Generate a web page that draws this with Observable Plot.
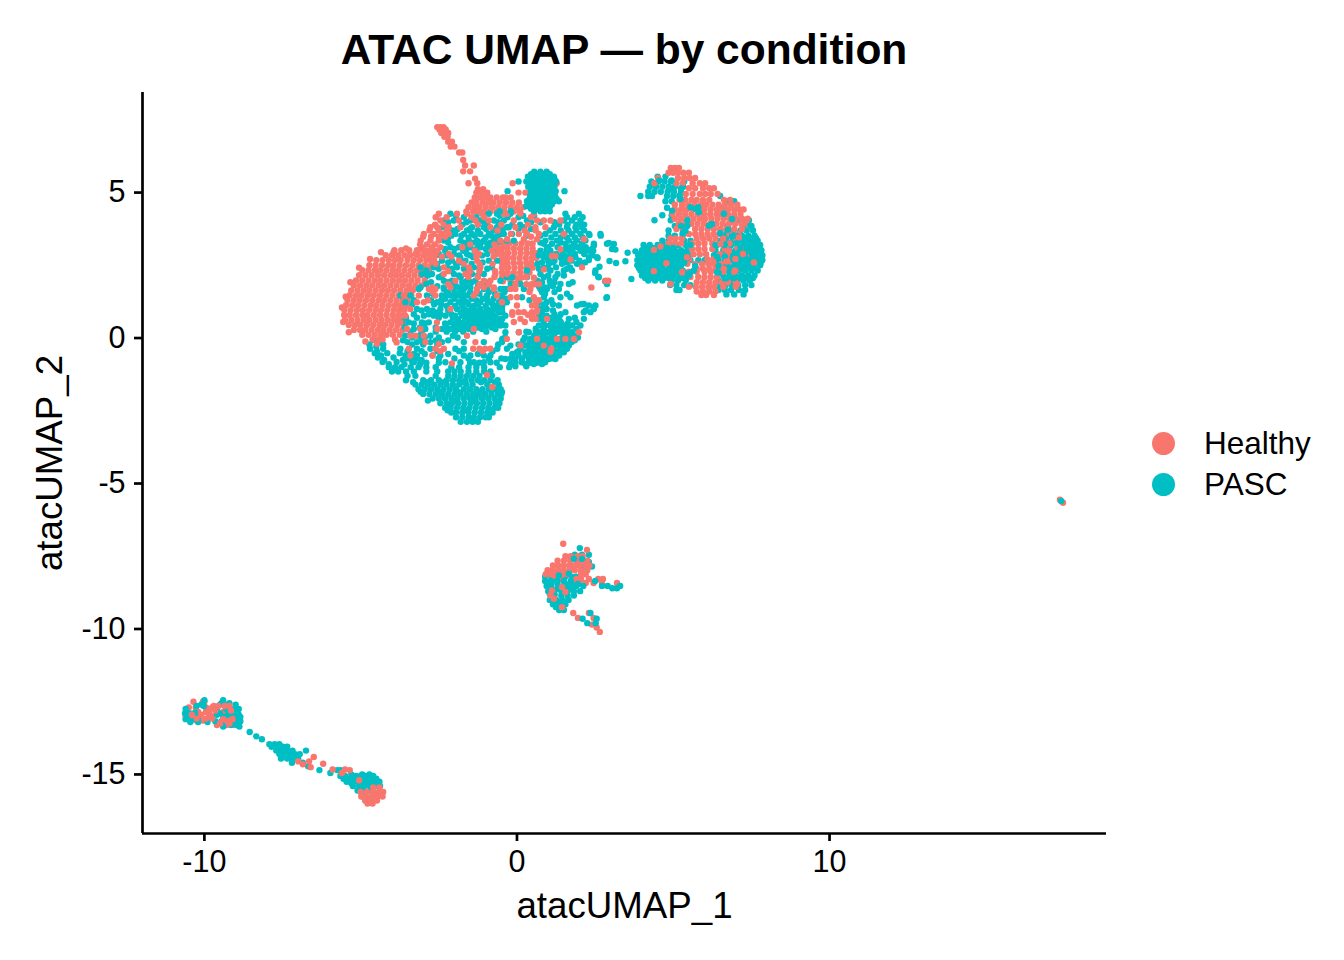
<!DOCTYPE html>
<html>
<head>
<meta charset="utf-8">
<script src="https://cdn.jsdelivr.net/npm/d3@7"></script>
<script src="https://cdn.jsdelivr.net/npm/@observablehq/plot@0.6"></script>
<style>
html,body{margin:0;background:#fff;font-family:"Liberation Sans",Arial,sans-serif;color:#000}
#wrap{position:relative;width:1344px;height:960px;overflow:hidden}
#title{position:absolute;left:142px;width:964px;top:25px;text-align:center;font-weight:bold;font-size:42.5px;line-height:50px}
#legend{position:absolute;left:1152px;top:423px}
.item{display:flex;align-items:center;height:41px}
.sw{width:23px;height:23px;border-radius:50%;margin-right:29px}
.lab{font-size:31.5px}
</style>
</head>
<body>
<div id="wrap">
<div id="title"></div>
<div id="chart"></div>
<div id="legend"></div>
</div>
<script>
const titleText = "ATAC UMAP — by condition";
const conditions = ["Healthy", "PASC"];
const palette = ["#F8766D", "#00BFC4"];
const xTicks = [-10, 0, 10];
const yTicks = [-15, -10, -5, 0, 5];
const xLabel = "atacUMAP_1";
const yLabel = "atacUMAP_2";
const xDomain = [-11.98, 18.86];
const yDomain = [-17.03, 8.44];

// Each row: [y, x, x, x ...].
const pascLower = [
[-.07,-4.6],[-.15,-4.4],[-.22,-4.72,-4.28],[-.3,-4.5],[-.37,-4.7,-4.28],[-.45,-4.48],
[-.52,-4.55,-4.15,-3.75],[-.6,-4.35],[-.67,-4.45,-3.95,-3.3],[-.75,-4.25,-3.65,-3.05],[-.82,-4.3,-3.85,-3.35],[-.9,-4.1,-3.6,-3.1],
[-1,-4.1,-3.9,-3.7,-3.4,-3.15,-2.9,-2.6,-2.1,-1.85,-1.55,-1.3,-1.05,-.55,-.25],
[-1.15,-4,-3.8,-3.55,-3.3,-2.9,-2.55,-2.2,-2,-1.8,-1.55,-1.3,-1.05,-.85],
[-1.3,-3.5,-3.25,-2.6,-2.2,-2,-1.8,-1.6,-1.4,-1.2,-.8],
[-1.45,-3.55,-3,-2.75,-2.5,-2.25,-2.05,-1.85,-1.65,-1.45,-1.25,-1.05,-.85,-.62],
[-1.52,-3.32,-2.9,-2.35,-1.75,-1.15,-.7],
[-1.6,-3.25,-3.05,-2.85,-2.65,-2.45,-2.25,-2.05,-1.85,-1.62,-1.42,-.95,-.58],
[-1.76,-3.15,-2.95,-2.75,-2.55,-2.35,-2.15,-1.95,-1.7,-1.5,-1.3,-1.1,-.9,-.7,-.52],
[-1.85,-3.08,-2.5,-1.88,-1.2,-.48],
[-1.92,-3,-2.8,-2.6,-2.4,-2.2,-2,-1.8,-1.6,-1.4,-1.22,-1.02,-.82,-.62,-.5],
[-2.08,-2.7,-2.5,-2.3,-2.1,-1.9,-1.7,-1.5,-1.32,-1.12,-.92,-.72,-.52],
[-2.15,-2.85,-2.02,-1.4,-.6],
[-2.24,-2.45,-2.25,-2.08,-1.88,-1.68,-1.48,-1.28,-1.08,-.88,-.68,-.56],
[-2.4,-2.3,-2.12,-1.92,-1.72,-1.52,-1.32,-1.12,-.92,-.72,-.6],
[-2.48,-2.22,-1.62,-.85],
[-2.56,-2.1,-1.95,-1.75,-1.55,-1.35,-1.15,-.95,-.78],
[-2.72,-1.95,-1.75,-1.55,-1.38,-1.18,-1,-.9],
[-2.88,-1.8,-1.6,-1.42,-1.25],
];

const pascMid = [
[4.27,-2.13,-.9,-.64,-.21,1.55,1.98],
[4.15,-1.7,-1.3,-.3,.05,1.6,1.85,2.1],
[4.04,-2.34,-2.02,-1.49,-1.17,-.74,-.42,.32,1.5,1.76,2.03],
[3.9,-1.75,-1.25,-.95,-.15,.1,1.35,1.62,1.9,2.15],
[3.81,-2.34,-1.44,-1.06,-.64,-.32,-.53,-.26,.22,1.18,1.6,1.87,2.08],
[3.7,-2.05,-1.6,-1.25,-.75,1.05,1.4,1.65,1.9,2.15],
[3.58,-1.97,-1.7,-1.44,-1.17,-.9,-.53,-.42,-.16,.91,1.23,1.5,1.76,2.03,2.3,2.67],
[3.46,-2.2,-1.55,-1,-.7,1.1,1.4,1.6,1.85,2.1],
[3.35,-2.34,-1.81,-1.54,-1.28,-1.06,-.74,-.32,-.53,-.1,.91,1.28,1.66,1.92,2.19],
[3.24,-1.65,-1.25,-.95,.86,1.12,1.55,1.82,2.08,2.46,2.88],
[3.12,-2.13,-1.86,-1.49,-1.17,-.85,1,1.3,1.7,1.95,2.2],
[3,-2.3,-1.72,-1.35,-.7,.75,1.07,1.66,2.03,2.3],
[2.89,-2.5,-2.02,-1.6,-.95,.9,1.25,1.45,1.85,2.15],
[2.78,-1.82,-1.4,.86,1.39,1.6,1.87,2.3,2.56],
[2.66,-2.4,-2.08,-1.65,-.9,-.64,1,1.2,1.45,1.75,2],
[2.55,-2.55,-1.95,-1.45,.65,1.02,1.44,1.92,2.03],
[2.43,-3.09,-2.66,-2.24,-1.92,-1.38,-.8,.85,1.25,1.7],
[2.32,-2.9,-2.1,-1.6,.32,1.07,1.5,1.76,2.51],
[2.2,-3.04,-2.72,-2.02,-1.44,-1.06,.75,1.3],
[2.09,-2.5,-1.8,-.32,-.16,.32,.86,1.23,2.62],
[1.97,-2.34,-2.08,-1.6,-1.33,-.53,.65,1.05],
[1.86,-2.9,-2,-1.2,-.2,.11,1.07,1.39,1.66,2.88],
[1.74,-3.09,-2.34,-1.81,-1.49,-.95,.9],
[1.69,-3.14,-2.34,-2.02,-1.7,-1.06,-.53,-.3,-.42,.22,.75,.96,1.34],
[1.58,-2.2,-1.85,-1.5,-.9,-.4,.8,1.2],
[1.46,-3.73,-3.41,-2.88,-2.4,-2.13,-1.86,-1.6,-.96,-.53],
[1.4,-.47,.16,.86,1.39,1.71,2.88],
[1.35,-2.3,-2,-1.72,-1.45,-1.1,-.75,-.35],
[1.23,-3.57,-2.56,-2.13,-1.86,-1.6,-1.17,-.85,-.58,-.32,.72,.95],
[1.12,-.47,.64,.86,1.34,1.92,2.3,2.51],
[1.1,-2.25,-1.98,-1.75,-1.38,-1,-.65],
[1,-3.2,-2.88,-2.45,-1.92,-1.7,-1.44,-1.17,-.96,-.74,-.48,.78,.95,2.46],
[.89,-.47,.8,1.55,2.14,2.35],
[.88,-2.6,-1.8,-1.55,-1.3,-1.05,-.8,-.55],
[.77,-2.98,-2.66,-2.29,-1.98,-1.75,-1.54,-1.33,-1.12,-.9,-.69,-.37,.75,.95],
[.66,-.47,.7,.86,1.28,1.66,2.14],
[.65,-1.88,-1.65,-1.42,-1.2,-1,-.75,-.55],
[.55,.85,1.1,1.4,1.9],
[.54,-3.68,-3.46,-3.04,-2.82,-2.13,-1.92,-1.7,-1.49,-1.28,-1.06,-.85,-.64],
[.43,-.53,-.37,.7,.91,1.07,1.28,1.5,1.76,2.03],
[.42,-2,-1.8,-1.6,-1.38,-1.15,-.95,-.7],
[.32,.6,.85,1.1,1.38,1.62,1.9],
[.31,-3.3,-2.93,-2.4,-2.13,-1.86,-1.54,-1.12,-.69],
[.2,-.37,.06,.38,.7,.96,1.23,1.5,1.76],
[.08,-3.57,-3.14,-2.77,-2.05,.55,.82,1.1,1.5,1.7,1.88],
[-.03,-.47,.43,.7,.96,1.39,1.6,1.76],
[-.14,-3.5,-3.2,-2.77,-2.4,-1.7,-1.06,-.48,.4,.65,.92,1.1,1.35,1.55,1.75],
[-.26,-.21,.27,.54,.8,1.23,1.44,1.66],
[-.37,-3.73,-3.2,-2.77,-1.97,-1.7,-.63,-.32,.12,.4,.67,.93,1.17,1.4,1.6],
[-.49,0,.27,.54,.8,1.07,1.28,1.5],
[-.6,-3.57,-3.2,-2.7,-2.45,-1.7,-1.49,-1.06,-.85,.05,.27,.48,.7,.92,1.13,1.35],
[-.72,-.37,-.05,.16,.38,.59,.8,1.02,1.23],
[-.83,-3.3,-3.08,-2.29,-1.81,-1.38,-1.06,-.85,.15,.45,.68,.9],
[-.89,-.21,.27,.54,.8],
[-.97,-.05,.3],
];

const pascFill = [
[4.2,-1.95,-1.05,-.55,.2,.55],
[3.98,-2.2,-1.62,-1.05,-.6,.45,.75,1.2],
[3.75,-2.5,-1.9,-1.5,-.98,-.45,.05,.45],
[3.52,-2.1,-1.78,-1.35,-.82,-.62,.3,.75],
[3.28,-2.2,-1.7,-1.4,-1.15,-.85,-.62,.75,1.4],
[3.06,-2.3,-2,-1.62,-1.3,-1,.95,1.55,1.78,2.4],
[2.84,-2.25,-1.85,-1.5,-1.12,.7,1.02,1.52,1.72,2.42],
[2.6,-2.2,-1.78,-1.1,.8,1.15,1.6,2.18],
[2.38,-2.5,-2.08,-1.7,-1.2,-.95,.7,1,1.6],
[2.15,-2.85,-2.4,-1.85,-1.25,1,1.5],
[1.92,-2.75,-2.2,-1.75,-1.45,-1,.8,1.2,1.78],
[1.78,-2.55,-1.95,-1.62,-1.25,.7,1.15],
[1.52,-2.7,-2.25,-2,-1.73,-1.2,-.7,.9,1.6],
[1.3,-3.3,-2.75,-2.42,-1.75,-1.3,-.95,-.5,.4,1.1],
[1.16,-3.35,-2.65,-2.42,-1.55,-1.25,-.78,.9,1.15,2.05],
[.95,-3.05,-2.7,-2.2,-1.6,-1.33,-.85,-.6,1.15,2.2],
[.82,-3.3,-2.82,-2.45,-2.1,-1.62,-1.42,-1.2,-1,-.78,.7,1.2,1.4],
[.7,-3.55,-3.2,-2.5,-2.05,-1.55,-1.3,-1.1,-.85,.95,1.1,1.35,1.85],
[.5,-3.3,-2.95,-2.3,-2,-1.8,-1.6,-1.38,-1.18,-.95,-.75,-.5,1.2,1.62],
[.36,-3.58,-3.1,-2.6,-2.25,-1.95,-1.7,-1.45,-1.25,-1.02,-.8,1.25,1.45],
[.22,-3.4,-3.05,-2.6,-2.25,-1.98,-1.72,-1.4,-.98,.3,.6,.85,1.1,1.35,1.6],
[.02,-3.35,-2.95,-2.5,-1.9,-.38,.25,.62,.9,1.2,1.45,1.95],
[-.08,-3.65,-3.05,-2.6,-2.2,.2,.55,.8,1.05,1.25,1.62,1.85],
[-.22,-3.35,-3,-2.55,-.6,.05,.45,.7,1,1.28,1.5],
[-.45,-3.5,-3.05,-2.55,-1.85,-.78,.05,.52,.78,1.02,1.35],
[-.55,-3.3,-2.95,-2.2,-1.25,-.15,.4,.62,.85,1.25],
[-.7,-3.5,-3.2,-2.5,-2,-1.55,-.9,-.5,-.2,.7,.98,1.1],
[-.85,-2.9,-2.5,-1.5,-1.2,-.65,-.05,.4,.62],
];

const pascTopBlob = [
[5.72,.55,.75,.95],
[5.63,.45,.65,.85,1.05],
[5.55,.35,.5,.68,.85,1.02,1.18],
[5.46,.4,.55,.72,.88,1.05,1.2],
[5.38,.05,.3,.46,.62,.78,.94,1.1,1.25],
[5.28,.42,.6,.78,.95,1.12],
[5.2,.36,.52,.7,.86,1.02,1.2],
[5.12,.5,.68,.85,1,1.18],
[5.05,-.3,.45,.6,.75,.92,1.08,1.24,1.52],
[4.95,.5,.65,.83,1,1.15],
[4.88,.42,.58,.74,.9,1.06,1.22],
[4.78,.4,.55,.75,.92,1.1,1.27],
[4.7,.32,.5,.66,.84,1,1.18,1.34],
[4.6,.42,.6,.78,.95,1.12],
[4.53,.3,.5,.7,.88,1.06],
[4.44,.45,.65,.82,1],
[4.36,-.55,-.2,.55,.75,.9,1.05],
];

const healthyDense = [
// tail
[7.25,-2.55,-2.45,-2.35],[7.17,-2.48,-2.28],[7.05,-2.42,-2.3,-2.2],[6.92,-2.32,-2.22],[6.75,-2.2,-2.08],[6.58,-2.12,-2],[6.38,-1.85,-1.75],[6.12,-1.72],[5.93,-1.66,-1.38],[5.73,-1.72,-1.5],[5.48,-1.34],[5.32,-1.55,-1.27,-.14,1.27],[5.12,-1.08,-1.25],
[5,-1.3,-1.12,-.95,.05,.27],
[4.83,-1.35,-1.18,-1,-.85,-.65,-.37,-.45,-.2],
[4.66,-1.45,-1.3,-1.1,-.92,-.75,-.55,-.35,-.15,.06],
[4.5,-1.55,-1.36,-1.2,-1,-.8,-.6,-.4,-.2,0,.2],
[4.35,-1.62,-1.4,-1.25,-1.05,-.85,-.65,-.4,-.1,.1],
// central patch
[3.25,-.45,-.25,-.05,.15,.35,.5],
[3.08,-.48,-.3,-.1,.1,.3,.5],
[2.92,-.48,-.28,-.08,.12,.32,.5,.62],
[2.75,-.48,-.3,-.12,.08,.28,.48,.62],
[2.58,-.48,-.3,-.1,.1,.3,.45],
[2.42,-.48,-.28,-.08,.12,.32,.5],
[2.25,-.48,-.3,-.1,.1,.3,.4],
[2.08,-.48,-.25,-.05,.15],
[1.95,-.45,-.2,.05],
// dense left blob
[3.08,-3.55,-3.05],[2.95,-4.35,-3.95],[2.72,-4.7],[2.42,-5.05],[1.92,-5.33],[1.42,-5.48],[1.05,-5.6],[.55,-5.56],[.2,-5.38],[-.12,-4.85],[-.2,-4.48],[-.15,-3.85],
[3.02,-3.92,-3.7,-3.45,-3.2,-2.95,-2.7],
[2.85,-4.2,-4,-3.8,-3.6,-3.42,-3.2,-3,-2.78,-2.55],
[2.68,-4.5,-4.3,-4.1,-3.9,-3.72,-3.5,-3.3,-3.1,-2.9,-2.65],
[2.5,-4.72,-4.52,-4.32,-4.12,-3.95,-3.75,-3.55,-3.35,-3.15,-2.95,-2.75],
[2.33,-4.95,-4.75,-4.55,-4.38,-4.18,-3.98,-3.8,-3.6,-3.4,-3.2,-3,-2.82],
[2.16,-5.05,-4.85,-4.65,-4.45,-4.25,-4.05,-3.87,-3.68,-3.48,-3.28,-3.08,-2.9],
[1.98,-5.15,-4.95,-4.75,-4.55,-4.37,-4.17,-3.97,-3.77,-3.58,-3.38,-3.18,-2.95],
[1.81,-5.22,-5.02,-4.82,-4.63,-4.43,-4.25,-4.05,-3.85,-3.65,-3.45,-3.25,-3.05],
[1.64,-5.3,-5.1,-4.9,-4.72,-4.52,-4.32,-4.13,-3.93,-3.73,-3.53,-3.33],
[1.47,-5.35,-5.15,-4.97,-4.77,-4.58,-4.38,-4.18,-3.98,-3.78,-3.58,-3.38],
[1.3,-5.42,-5.22,-5.03,-4.83,-4.63,-4.43,-4.25,-4.05,-3.85,-3.65,-3.5],
[1.13,-5.47,-5.27,-5.08,-4.88,-4.68,-4.5,-4.3,-4.1,-3.9,-3.72,-3.55],
[.96,-5.52,-5.32,-5.12,-4.93,-4.73,-4.53,-4.35,-4.15,-3.95,-3.77,-3.6],
[.79,-5.53,-5.35,-5.15,-4.95,-4.78,-4.58,-4.38,-4.18,-3.98,-3.8,-3.62],
[.62,-5.5,-5.3,-5.1,-4.9,-4.72,-4.52,-4.33,-4.13,-3.93,-3.75,-3.6],
[.45,-5.38,-5.18,-5,-4.8,-4.6,-4.4,-4.22,-4.02,-3.82,-3.62],
[.28,-5.22,-5.02,-4.85,-4.65,-4.45,-4.27,-4.07,-3.87,-3.67],
[.11,-4.95,-4.75,-4.55,-4.35,-4.17,-3.97,-3.75],
[-.05,-4.62,-4.42,-4.3,-3.9],
];

const healthyOver = [
[4.27,-2.5,-1.92,-1.6,-1.12,-.42,-.32,.11,.54],
[4.04,-2.45,-1.86,-1.33,-.9,-.1,.64,.86,1.07,1.39],
[3.81,-2.77,-2.55,-2.18,-1.81,-.85,-.05,.59,.91],
[3.58,-2.98,-2.66,-2.4,-2.18,-.2,.06,.32,.7,1.5],
[3.4,-.31,.22,.64,2.14],
[3.35,-3.08,-2.77,-2.5,-.53],
[3.12,-3.04,-2.72,-2.45,-1.75,-.64,-.32],
[3.05,1.39],
[2.89,-3.25,-2.93,-2.61,-2.18,-1.22,-.64,-.32],
[2.82,1.12,1.23],
[2.7,1.71],
[2.66,-2.72,-1.86,-1.28,-.42],
[2.43,-2.34,-1.54,-1.17,-.42,2.08],
[2.36,.86],
[2.2,-2.34,-1.65,-.69,-.32],
[2.07,.54,.1],
[1.97,-1.97,-1.06,-.85,2.83,2.92],
[1.86,-.05,.48,.7],
[1.74,-2.7,-2.13,-1.06,-.74,2.38],
[1.69,-3.41,-2.82,-2.61,-1.28,-.74,-.21,-.05,.43],
[1.46,-3.62,-3.14,-2.61,-1.38,-.64],
[1.4,-.21,0,.54],
[1.23,-3.2,-2.98,-.48],
[1.12,0,.48,.6],
[1,-3.62,-3.41,-2.13],
[.95,.65],
[.89,-.15,.05,.22,.48,.62],
[.77,-3.73,-3.57],
[.66,.11,.48,.96,.6],
[.54,-3.73,-2.56],
[.31,-3.52,-3.09,-2.55,-1.38],
[.2,.06,1.98],
[.08,-3.41,-3.25,-2.98,-1.6],
[-.03,-.32,1.28,1.55,.64,1.82],
[-.14,-2.93,-1.33],
[-.26,.11,.86],
[-.37,-3.46,-2.61,-2.34,-1.4,-1.2,-1.02,-.85,1.1],
[-.47,1.07],
[-.6,-3.41,-2.7],
[-.87,-2.08],[-1.27,-.96],[-1.68,-.79],
[4.15,-2.6,-2.25,-1.45,-1.05,.45],[3.9,-2.62,-2.35,-1.25,-.5,.35],[3.7,-2.8,-2.5,-2.25,-.62,.25,.6],[3.48,-3,-2.75,-2.5,-2.3,.45],
[3.22,-3.1,-2.88,-2.62,-1.5,-.72],[3,-3.15,-2.85,-2.55,-1.35,-.8,-.55],[2.8,-2.75,-2.4,-2.1,-1.3,-.75],[2.55,-2.6,-1.7,-1.2,-.78],
[2.3,-2.2,-1.5,-1.2,-.7],[2.1,-1.55,-1.25,-.72,.3],[1.85,-2.2,-1.2,-.9,.3,.55],[1.58,-2.7,-1.3,.4],[1.3,-2.85,.6,.7],[.8,.35,.5,-.15],[.55,-.1,.25],[-.2,-2.5],[-.45,-2.45,-1.1],
];

const healthyRight = [
[5.85,4.92,5.05,5.18],
[5.68,4.85,5,5.15,5.32,5.5],
[5.5,4.52,5.15,5.35,5.52,5.7],
[5.32,4.4,5.1,5.3,5.62,5.85,6.02],
[5.15,5.5,5.7,5.95,6.15,6.3],
[4.95,5.4,5.62,5.85,6.02,6.2,6.42],
[4.75,5.2,5.38,5.58,5.75,5.95,6.15,6.62,6.82],
[4.58,5.05,5.28,5.48,5.68,5.88,6.05,6.25,6.45,6.65,6.85,7.05],
[4.42,5.05,5.25,5.42,5.62,5.82,6,6.2,6.4,6.55,6.75,6.95,7.12,7.25],
[4.26,4.98,5.18,5.38,5.58,5.78,5.98,6.18,6.38,6.55,6.75,6.95,7.15],
[4.1,5.05,5.25,5.45,5.65,5.85,6.02,6.22,6.42,6.62,6.82,7,7.2,7.38],
[3.93,5.18,5.38,5.58,5.78,5.98,6.18,6.38,6.58,6.78,6.98,7.18,7.35],
[3.75,5.1,5.3,5.7,5.9,6.1,6.3,6.5,6.7,6.95,7.2],
[3.58,5.5,5.7,5.9,6.1,6.3,6.5,6.8,7.08],
[3.42,4.9,5.08,5.28,5.75,5.95,6.15,6.35,6.6,7],
[3.25,4.85,5.05,5.25,5.6,5.8,6,6.25,6.8],
[3.06,5.6,5.8,6,6.25,6.65,7.05,7.25],
[2.88,5.65,5.85,6.05,6.5,6.75,7.35],
[2.7,5.5,6.1,6.28,6.75],
[2.55,5.45,5.7,5.92,6.12,6.3,6.55,6.75],
[2.38,5.75,5.95,6.15,6.35,6.55,7.03],
[2.28,5.3,5.5,5.75,6,6.2,6.6,6.95],
[2.1,5.3,5.55,5.8,6,6.2,6.4],
[1.92,5.75,5.95,6.15,6.35,6.55,6.75,7],
[1.76,5.5,5.72,5.92,6.12,6.3,6.6,7],
[1.6,5.75,5.95,6.15,6.35],
[1.48,5.9,6.05,6.3],
];

const healthyRightOver = [
[3.46,7.1],[3.23,6.51],[3.15,4.59],[3.03,4.38],[3,6.78],[2.89,7.23],[2.78,5.44],[2.72,6.99],[2.63,6.7],[2.6,7.58],[2.57,4.78],
[2.38,6.62],[2.32,6.97],[2.3,4.38],[2.26,5.28],[1.86,7.04,4.91],
];

const pascRightUnder = [
[5.55,4.5,4.75],
[5.38,4.3,4.52,4.72,4.92,5.35],
[5.2,4.25,4.45,4.65,4.85,5.05,5.32],
[5.03,4.2,4.4,4.6,4.82,5.02,5.25],
[4.88,3.95,4.2,4.32,4.8,5,5.2,6.5],
[4.7,4.75,4.95,6.75,6.95],
[4.48,4.8,5.55,6.6],
[4.22,4.65,4.95],
[4.05,4.4,4.92,6.9,7.05,7.25,7.42],
[3.85,5.05,6.75,7.25,7.5],
[3.7,4.85,5.35,6.7,6.92,7.15,7.35,7.55],
[3.52,4.85,5.05,5.3,6.6,6.75,6.95,7.2,7.4,7.6],
[3.35,4.65,4.85,5.35,5.55,6.5,6.7,6.9,7.15,7.35,7.55,7.7],
[3.2,4.05,4.25,4.5,4.7,4.9,5.15,5.4,6.4,6.6,6.85,7.05,7.25,7.45,7.65,7.78],
[3.02,4,4.2,4.45,4.65,4.85,5.05,5.25,5.45,6.35,6.6,6.8,7,7.2,7.4,7.6,7.82],
[2.85,3.88,4.08,4.28,4.48,4.72,4.9,5.1,5.3,5.5,6.3,6.55,6.78,7,7.2,7.4,7.62,7.85],
[2.68,3.85,4.05,4.25,4.45,4.65,4.85,5.1,5.35,5.55,5.8,6,6.45,6.65,6.88,7.05,7.25,7.45,7.65,7.85],
[2.5,3.85,4.05,4.25,4.45,4.65,4.85,5.05,5.25,6.95,7.15,7.35,7.55,7.78],
[2.32,3.95,4.15,4.35,4.55,4.75,5.05,5.3,6.7,6.85,7.1,7.3,7.5,7.7],
[2.15,4,4.2,4.4,4.6,4.8,5,6.6,6.8,7,7.2,7.4,7.6],
[1.98,4.2,4.42,4.65,4.95,5.15,5.4,6.45,6.65,6.85,7.05,7.25,7.45],
[1.82,4.9,5.1,5.35,5.55,6.5,6.68,6.88,7.08,7.3,7.5],
[1.65,5.1,5.2,6.45,6.65,6.85,7.1,7.3],
[1.5,6.7,6.95,7.25],
];

const pascRightFill = [
[3.43,7.3,7.5,7.65],[3.28,7.05,7.25,7.45,7.62],[3.1,4.12,4.35,4.6,4.8,5,7.15,7.35,7.55,7.72],
[2.93,3.98,4.18,4.38,4.6,4.82,5,5.2,5.4,7.1,7.3,7.5,7.72],
[2.76,3.95,4.15,4.35,4.55,4.75,4.98,5.22,5.45,6.9,7.1,7.3,7.52,7.75],
[2.59,3.95,4.15,4.35,4.55,4.75,4.95,5.15,5.35,7,7.2,7.4,7.6,7.8],
[2.41,3.9,4.05,4.25,4.45,4.65,4.9,5.15,6.8,7,7.2,7.4,7.6],
[2.23,4.1,4.3,4.5,4.7,4.9,5.15],
[2.06,4.1,4.3,4.5,4.7,4.85,5.25,6.7,6.95,7.15,7.35,7.55],
];

const pascRightOver = [
[5.42,4.55,4.95],[5.15,5.25,4.9],[4.9,5.2],[4.78,5.23],[4.5,5.55,5.8],[4.44,5.71],[4.38,4.96],[4.32,5.82],[4.27,6.62],[4.09,6.88],[4.05,5.45],
[3.92,6.24],[3.86,7.47,6.14],[3.85,5.45,5.25],[3.69,5.39],[3.6,5.3,6.5],[3.2,5.55,6.35,6.65],[2.95,5.35,5.25,6.9],[2.48,5.05,5.7,6.45,6.7],
[2.32,5.66],[2.26,6.4],[2.25,5.35,5.55,6.45],[2.15,5.5],[2.05,5.1,5.4,6.65],[2.8,6.4,6.65,7],[3.5,7.05,6.88],[3.72,6.75],
];

const pascBridge = [
[3.9,2.08],[3.54,2.32],[3.52,2.68],[3.27,2.94],[3.23,3.1],[3.18,2.46],[3.06,3.04,2.14],[3.04,3.15],[3,2.44],[2.98,3.79],[2.93,3.54],
[2.75,2.58],[2.68,2.3],[2.65,2.96],[2.64,3.47],[2.58,3.17],[2.45,2.64],[2.24,2.5],[2.11,2.6],[2.03,3.66],[1.95,2.82],[1.38,2.86],[1.17,2.14],[1.06,2.46],
];

const healthySmall = [
[-7.07,1.48],[-7.28,2.24],
[-7.5,1.55,1.72,1.95,2.1],
[-7.65,1.3,1.5,1.7,1.9,2.1,2.25],
[-7.82,1.15,1.32,1.5,1.68,1.85,2,2.2,2.32],
[-7.98,.98,1.15,1.32,1.5,1.68,1.85,2.05,2.25],
[-8.12,.92,1.08,1.25,1.45,1.62,2.05,2.2],
[-8.28,1.2,1.4,1.9,2.05,2.3,2.6,2.75],
[-8.42,1.75,2,2.2,2.45,2.72,3.2],
[-8.6,1.1,1.3,1.55],
[-8.85,1.2,1.15],
[-9.3,1.44],[-9.45,1.8,2.3],[-9.62,1.95,2.45],
[-9.85,2.4],[-9.95,2.55],[-10.1,2.65],
];

const pascSmall = [
[-7.22,2.01],
[-7.45,1.85,2.08,2.3],
[-7.7,1.95,2.3],[-7.85,1.78,2.15,2.4],
[-8.2,.9,1.1,1.3,1.55,1.75,1.9],
[-8.35,.9,1.08,1.28,1.5,1.72,2.5],
[-8.52,.95,1.5,1.7,1.9,2.12,2.72,2.9,3.3],
[-8.45,1.1,1.3,1.55,1.75,1.95],
[-8.6,3.05,3.2],
[-8.62,1.12,1.3,1.55,1.75],
[-8.7,1,1.42,1.62,1.82,2.02],
[-8.8,1.05,1.2],
[-8.85,1.42,1.62,1.82],
[-9,1.05,1.25,1.45,1.65],
[-9.05,1.3,1.5],
[-9.15,1.15,1.35,1.55],
[-9.25,1.25,1.45],
[-9.35,1.35,1.5],
[-9.45,2.35],[-9.65,2.1,2.55],[-9.8,2.25,2.52],
];

const healthySmallOver = [[-8.56,1.44],[-8.68,1.12],[-8.73,1.55],[-8.85,1.07],[-8.96,1.18],[-9.25,1.44]];
const pascSmallOver = [[-7.59,1.82,2.08],[-8.1,1.66],[-8.16,1.34]];

const healthyBottom = [
[-12.5,-10.35,-10.05,-10],
[-12.7,-10.5,-10.28,-9.95,-9.75],
[-12.85,-10.2,-9.95,-9.85,-9.4,-9.15],
[-13,-10.6,-9.85,-9.75,-9.35,-9.1],
[-13.15,-10.45,-10.25,-10.05,-9.25,-9.2],
[-13.3,-9.6,-9.3,-9.05],
];

const pascBottom = [
[-12.45,-10,-9.4],
[-12.55,-9.45,-9.2],
[-12.6,-10.1,-9.5,-9.25,-9],
[-12.65,-10.25,-10.02],
[-12.75,-10.6,-9.6,-9.3,-9.05,-8.9],
[-12.88,-10.55,-10.3],
[-12.9,-10.62,-10.45,-9.5,-9.15,-8.95],
[-12.95,-9.6,-9.25,-8.9],
[-13.02,-10.55,-10.2,-9.4,-8.95,-8.85],
[-13.1,-10.6,-10.35],
[-13.17,-9.65,-9.45,-9,-8.85],
[-13.2,-10.45,-10.2,-9.9],
[-13.3,-8.95,-9.15],
[-13.35,-8.88,-9.4],[-13.54,-8.55],[-13.69,-8.34],[-13.79,-8.16],
[-13.96,-7.92,-7.75,-7.6],
[-14.05,-7.85,-7.65,-7.5,-7.35],
[-14.18,-7.7,-7.52,-7.35,-7.18,-6.75],
[-14.3,-7.6,-7.45,-7.28,-7.1,-6.95],
[-14.45,-7.55,-7.35,-7.18,-7],
[-14.6,-7.2,-6.85],[-14.72,-6.68],
[-14.85,-6.32],[-14.95,-5.97],[-14.85,-5.75,-5.64],
[-15,-5.3,-4.95,-4.72],
[-15.05,-5.65,-5.5,-5.15,-5.0,-4.85,-4.6],
[-15.15,-5.55,-5.35,-5.2,-5.02,-4.85,-4.68,-4.5],
[-15.25,-5.45,-5.28,-5.1,-4.92,-4.75,-4.55,-4.4],
[-15.3,-5.3,-5,-4.62],
[-15.4,-5.25,-5.05,-4.88,-4.7,-4.5,-4.38],
[-15.55,-5.1,-4.92,-4.7],
[-15.75,-4.95],[-15.9,-4.85],
];

const healthyBottomOver = [
[-12.65,-9.7,-9.55,-9.35,-9.2],[-12.8,-9.65,-9.15],[-12.95,-10.4,-10.1],[-13.08,-10.25,-9.95,-9.75],[-13.1,-9.4,-9.1],[-13.25,-9.5,-9.2],
[-14.65,-6.85],[-14.55,-6.65,-7],[-14.4,-6.5],[-14.75,-6.6],
[-14.63,-6.2],[-14.83,-5.9,-5.5],[-14.95,-5.6],[-14.85,-5.35],
[-15.2,-5.05],[-15.45,-4.6,-4.4],[-15.6,-5,-4.8,-4.6,-4.42,-4.28],
[-15.76,-4.98,-4.8,-4.62,-4.45,-4.3],[-15.9,-4.85,-4.65,-4.48],[-16,-4.78,-4.62],
];

const healthyFar = [[-5.56,17.37],[-5.66,17.47]];
const pascFar = [[-5.6,17.41]];

const cells = (rows, condition) => rows.flatMap(([y, ...xs]) => xs.map(x => ({x, y, condition})));
const points = [
  ...cells(pascLower, "PASC"), ...cells(pascRightUnder, "PASC"), ...cells(pascBridge, "PASC"),
  ...cells(healthyDense, "Healthy"), ...cells(healthyRight, "Healthy"),
  ...cells(pascMid, "PASC"), ...cells(pascFill, "PASC"), ...cells(healthyOver, "Healthy"),
  ...cells(pascTopBlob, "PASC"), ...cells(pascRightFill, "PASC"), ...cells(pascRightOver, "PASC"), ...cells(healthyRightOver, "Healthy"),
  ...cells(healthyBottom, "Healthy"), ...cells(pascBottom, "PASC"), ...cells(healthyBottomOver, "Healthy"),
  ...cells(pascSmall.slice(0,5), "PASC"), ...cells(healthySmall, "Healthy"), ...cells(pascSmall.slice(5), "PASC"),
  ...cells(healthySmallOver, "Healthy"), ...cells(pascSmallOver, "PASC"),
  ...cells(healthyFar, "Healthy"), ...cells(pascFar, "PASC"),
];

const chart = Plot.plot({
  width: 1344, height: 960,
  marginLeft: 142, marginRight: 238, marginTop: 92, marginBottom: 127,
  style: {fontFamily: '"Liberation Sans", Arial, sans-serif', background: "#fff", color: "#000"},
  x: {domain: xDomain, ticks: xTicks, label: null},
  y: {domain: yDomain, ticks: yTicks, label: null},
  color: {domain: conditions, range: palette},
  marks: [
    Plot.dot(points, {x: "x", y: "y", fill: "condition", r: 3.2}),
    Plot.ruleX([xDomain[0]], {stroke: "#000", strokeWidth: 2.7}),
    Plot.ruleY([yDomain[0]], {stroke: "#000", strokeWidth: 2.7}),
    Plot.axisX({ticks: xTicks, tickSize: 8, tickPadding: 9, tickFormat: String, fontSize: 30.5, strokeWidth: 2.7, stroke: "#000", fill: "#000", label: null}),
    Plot.axisY({ticks: yTicks, tickSize: 8, tickPadding: 9, tickFormat: String, fontSize: 30.5, strokeWidth: 2.7, stroke: "#000", fill: "#000", label: null}),
    Plot.text([xLabel], {frameAnchor: "bottom", dy: 73, fontSize: 36.7, fill: "#000", lineAnchor: "middle", textAnchor: "middle"}),
    Plot.text([yLabel], {frameAnchor: "left", dx: -92, rotate: -90, fontSize: 36.7, fill: "#000", lineAnchor: "middle", textAnchor: "middle"}),
  ]
});
document.getElementById("chart").append(chart);
document.getElementById("title").textContent = titleText;
const legend = document.getElementById("legend");
conditions.forEach((c, i) => {
  const item = document.createElement("div"); item.className = "item";
  const sw = document.createElement("div"); sw.className = "sw"; sw.style.background = palette[i];
  const lab = document.createElement("div"); lab.className = "lab"; lab.textContent = c;
  item.append(sw, lab); legend.append(item);
});
</script>
</body>
</html>
